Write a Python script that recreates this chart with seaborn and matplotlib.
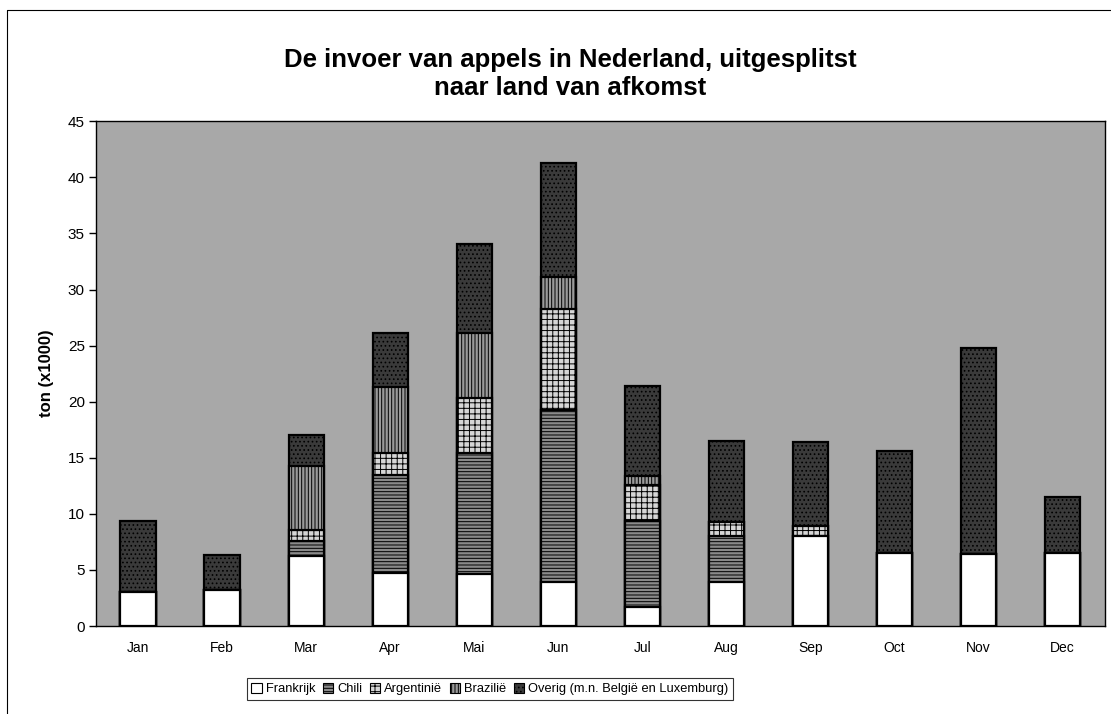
import numpy as np
import pandas as pd
import matplotlib
matplotlib.use("Agg")
import matplotlib.pyplot as plt
from matplotlib.patches import Patch
from matplotlib.lines import Line2D
import seaborn as sns

# data (ton x1000)
months = ["Jan", "Feb", "Mar", "Apr", "Mai", "Jun", "Jul", "Aug", "Sep", "Oct", "Nov", "Dec"]
frankrijk = [3.0, 3.2, 6.2, 4.7, 4.6, 3.9, 1.7, 3.9, 8.0, 6.5, 6.4, 6.5]
chili = [0.0, 0.0, 1.4, 8.8, 10.8, 15.4, 7.7, 4.1, 0.0, 0.0, 0.0, 0.0]
argentinie = [0.0, 0.0, 1.0, 1.9, 4.9, 9.0, 3.2, 1.3, 0.9, 0.0, 0.0, 0.0]
brazilie = [0.0, 0.0, 5.7, 5.9, 5.8, 2.8, 0.8, 0.0, 0.0, 0.0, 0.0, 0.0]
overig = [6.4, 3.1, 2.7, 4.8, 8.0, 10.2, 8.0, 7.2, 7.5, 9.1, 18.4, 5.0]

series = ["Frankrijk", "Chili", "Argentinië", "Brazilië", "Overig (m.n. België en Luxemburg)"]
df = pd.DataFrame({"month": months, series[0]: frankrijk, series[1]: chili,
                   series[2]: argentinie, series[3]: brazilie, series[4]: overig})

styles = {
    series[0]: ("#ffffff", None),
    series[1]: ("#8a8a8a", "-----"),
    series[2]: ("#d6d6d6", "+++"),
    series[3]: ("#9a9a9a", "|||||"),
    series[4]: ("#3a3a3a", "...."),
}

sns.set_style("white")
plt.rcParams["font.family"] = ["Liberation Sans", "DejaVu Sans"]
plt.rcParams["hatch.linewidth"] = 0.7
for key in ["text.color", "axes.labelcolor", "xtick.color", "ytick.color"]:
    plt.rcParams[key] = "black"

fig = plt.figure(figsize=(11.11, 7.14), dpi=100)
ax = fig.add_axes([0.0864, 0.1232, 0.908, 0.707])
ax.set_facecolor("#a8a8a8")

cum = df[series].cumsum(axis=1)

# draw from the top layer down so lower layers cover the upper ones
for name in reversed(series):
    color, hatch = styles[name]
    n_before = len(ax.patches)
    sns.barplot(x=df["month"], y=cum[name], order=months, color=color,
                saturation=1, width=0.42, edgecolor="black", linewidth=1.6,
                ax=ax)
    for p in ax.patches[n_before:]:
        if hatch:
            p.set_hatch(hatch)

ax.set_ylim(0, 45)
ax.set_xlim(-0.5, 11.5)
ax.set_yticks(np.arange(0, 46, 5))
ax.set_xticks(range(12))
ax.set_xticklabels(months, fontsize=10)
ax.set_xticks(np.arange(-0.5, 12, 1), minor=True)
ax.tick_params(axis="x", which="major", length=0, pad=11)
ax.tick_params(axis="x", which="minor", length=5, direction="inout", width=1, color="black")
ax.tick_params(axis="y", length=5, direction="out", width=1, color="black", labelsize=11, pad=3, left=True)
ax.set_xlabel("")
ax.set_ylabel("ton (x1000)", fontsize=12, fontweight="bold", labelpad=10)
for s in ax.spines.values():
    s.set_color("black")
    s.set_linewidth(1)

fig.text(0.513, 0.896, "De invoer van appels in Nederland, uitgesplitst\nnaar land van afkomst",
         ha="center", va="center", fontsize=18.5, fontweight="bold", linespacing=1.2)

handles = [Patch(facecolor=styles[s][0], hatch=styles[s][1], edgecolor="black", linewidth=0.8)
           for s in series]
leg = fig.legend(handles, series, loc="center", bbox_to_anchor=(0.441, 0.035), ncol=5,
                 fontsize=9.3, frameon=True, fancybox=False, edgecolor="black",
                 handlelength=0.8, handleheight=0.8, handletextpad=0.3, columnspacing=0.6,
                 borderpad=0.35, borderaxespad=0)
leg.get_frame().set_linewidth(0.8)

# outer chart-area border
fig.add_artist(Line2D([0.0063, 0.0063], [0, 0.986], color="black", linewidth=0.8))
fig.add_artist(Line2D([0.0063, 1.0], [0.986, 0.986], color="black", linewidth=0.8))

fig.savefig("out.png", dpi=100)
